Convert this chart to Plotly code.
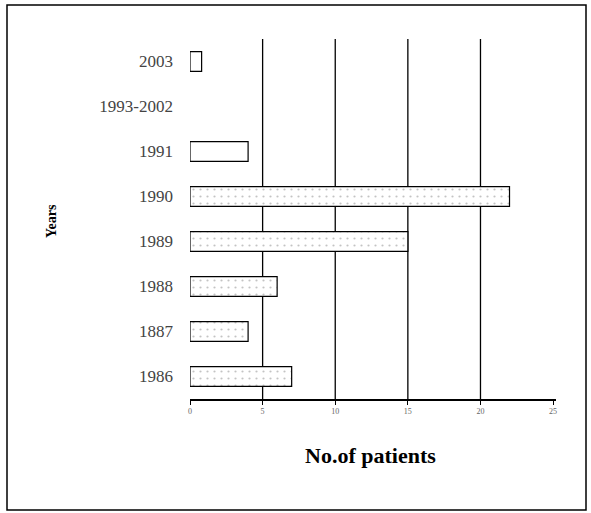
import plotly.graph_objects as go

categories = ["1986", "1887", "1988", "1989", "1990", "1991", "1993-2002", "2003"]
patients = [7, 4, 6, 15, 22, 4, 0, 0.8]
patterns = [".", ".", ".", ".", ".", "", "", ""]
x_ticks = [0, 5, 10, 15, 20, 25]
grid_vals = [5, 10, 15, 20]

W, H = 591, 513
ml, mr, mt, mb = 190, 35, 39, 114
pw, ph = W - ml - mr, H - mt - mb

def px_x(p):
    return (p - ml) / pw

def px_y(p):
    return (H - mb - p) / ph

fig = go.Figure()
fig.add_trace(go.Bar(
    x=patients, y=categories, orientation="h", width=0.44,
    marker=dict(color="white",
                line=dict(color="black", width=[1.2 if v > 0 else 0 for v in patients]),
                pattern=dict(shape=patterns, fgcolor="#888", bgcolor="white",
                             size=7, solidity=0.08)),
    showlegend=False,
))

shapes = []
for g in grid_vals:
    shapes.append(dict(type="line", xref="x", yref="paper", x0=g, x1=g, y0=0, y1=1,
                       line=dict(color="black", width=1.3), layer="below"))
shapes.append(dict(type="rect", xref="paper", yref="paper",
                   x0=px_x(7), x1=px_x(586), y0=px_y(510), y1=px_y(5),
                   line=dict(color="black", width=1.5)))

fig.update_layout(
    width=W, height=H, margin=dict(l=ml, r=mr, t=mt, b=mb),
    paper_bgcolor="white", plot_bgcolor="white",
    shapes=shapes, bargap=0.5,
    xaxis=dict(range=[0, 25.2], tickvals=x_ticks, ticktext=[str(v) for v in x_ticks],
               showgrid=False, zeroline=False, showline=True, linecolor="black", linewidth=1.5,
               ticks="outside", ticklen=4, tickcolor="black", automargin=False,
               tickfont=dict(family="Liberation Serif", size=8, color="#666")),
    yaxis=dict(range=[-0.5, 7.5], categoryorder="array", categoryarray=categories,
               showgrid=False, zeroline=False, showline=False, ticks="", ticklabelstandoff=16,
               automargin=False,
               tickfont=dict(family="Liberation Serif", size=17, color="#444")),
    annotations=[
        dict(text="<b>No.of patients</b>", xref="paper", yref="paper",
             x=px_x(370), y=px_y(456), xanchor="center", yanchor="middle", showarrow=False,
             font=dict(family="Liberation Serif", size=22, color="black")),
        dict(text="<b>Years</b>", xref="paper", yref="paper", textangle=-90,
             x=px_x(51), y=px_y(221), xanchor="center", yanchor="middle", showarrow=False,
             font=dict(family="Liberation Serif", size=14, color="black")),
    ],
)

fig.write_html("out.html", config={"displayModeBar": False},
               post_script="document.body.style.margin='0px';")
